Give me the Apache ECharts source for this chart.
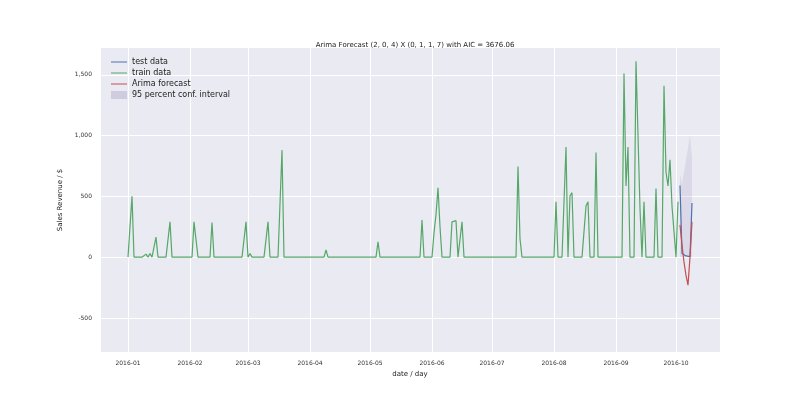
<!DOCTYPE html>
<html><head><meta charset="utf-8">
<script src="https://cdn.jsdelivr.net/npm/echarts@6/dist/echarts.min.js"></script>
<style>html,body{margin:0;padding:0;background:#fff}#c{width:800px;height:402px}</style>
</head><body><div id="c"></div>
<script>
const startDate = '2016-01-01';
// train data: nonzero days [day offset from 2016-01-01, value]; other days are 0
const trainSpikes = [[2,500],[9,25],[11,30],[14,165],[21,290],[33,290],[34,290],[42,285],[59,290],[61,30],[70,290],[77,880],
 [99,60],[125,125],[147,305],[153,200],[154,350],[155,570],[156,250],[162,290],[163,295],[164,300],[167,290],
 [195,745],[196,150],[214,455],[219,905],[221,505],[222,530],[229,420],[230,455],[234,860],
 [248,1510],[249,585],[250,905],[254,1610],[255,1000],[256,400],[258,455],[264,565],[268,1410],[269,700],[270,585],[271,800],[272,420],[273,420],[275,455]];
const trainLastDay = 275;
const testDays = [276,277,278,279,280,281,282];
const testValues = [590,30,25,10,5,5,445];
const forecastValues = [265,100,-40,-150,-230,0,290];
const ciUpper = [600,300,250,200,250,500,700];
const ciLower = [-80,-300,-450,-600,-650,-500,-120];
const yTicks = [-500,0,500,1000,1500];

const dayMs = 86400000;
const t0 = Date.parse(startDate+'T00:00:00Z');
const dt = d => t0 + d*dayMs;
const spikeMap = new Map(trainSpikes);
const train = [];
for (let d=0; d<=trainLastDay; d++) train.push([dt(d), spikeMap.get(d)||0]);
const test = testDays.map((d,i)=>[dt(d),testValues[i]]);
const fc = testDays.map((d,i)=>[dt(d),forecastValues[i]]);
const lo = testDays.map((d,i)=>[dt(d),ciLower[i]]);
const band = testDays.map((d,i)=>[dt(d),ciUpper[i]-ciLower[i]]);

const chart = echarts.init(document.getElementById('c'));
const txt = '#333';
chart.setOption({
  animation:false,
  backgroundColor:'#fff',
  title:{text:'Arima Forecast (2, 0, 4) X (0, 1, 1, 7) with AIC = 3676.06',left:410,top:37,textAlign:'center',textStyle:{fontSize:7,fontWeight:'normal',color:'#222',fontFamily:'DejaVu Sans'}},
  grid:{left:100,right:80,top:48,bottom:50,show:true,backgroundColor:'#EAEAF2',borderWidth:0},
  legend:{orient:'vertical',left:106,top:53,itemWidth:16,itemHeight:8,itemGap:3,textStyle:{fontSize:8,color:'#222',fontFamily:'DejaVu Sans'},
    data:[{name:'test data',icon:'path://M0,4L16,4L16,5L0,5Z'},{name:'train data',icon:'path://M0,4L16,4L16,5L0,5Z'},{name:'Arima forecast',icon:'path://M0,4L16,4L16,5L0,5Z'},{name:'95 percent conf. interval',icon:'rect'}]},
  xAxis:{type:'time',min:Date.parse('2015-12-18T00:00:00Z'),max:Date.parse('2016-10-23T00:00:00Z'),
    minInterval:28*dayMs,maxInterval:31*dayMs,
    axisLine:{show:false},axisTick:{show:false},
    splitLine:{show:true,lineStyle:{color:'#fff',width:1}},
    axisLabel:{fontSize:6,color:txt,fontFamily:'DejaVu Sans',formatter:v=>{const d=new Date(v);return d.getUTCFullYear()+'-'+String(d.getUTCMonth()+1).padStart(2,'0');}},
    name:'date / day',nameLocation:'middle',nameGap:12,nameTextStyle:{fontSize:7,color:'#222',fontFamily:'DejaVu Sans'}},
  yAxis:{type:'value',min:-780,max:1720,
    axisLine:{show:false},
    axisTick:{show:false,customValues:yTicks},
    axisLabel:{fontSize:6,color:txt,fontFamily:'DejaVu Sans',customValues:yTicks},
    splitLine:{show:true,lineStyle:{color:'#fff',width:1}},
    name:'Sales Revenue / $',nameLocation:'middle',nameGap:22,nameTextStyle:{fontSize:7,color:'#222',fontFamily:'DejaVu Sans'}},
  series:[
    {name:'test data',type:'line',data:test,showSymbol:false,lineStyle:{color:'#4C72B0',width:1.2},itemStyle:{color:'#4C72B0'},z:4},
    {name:'train data',type:'line',data:train,showSymbol:false,lineStyle:{color:'#55A868',width:1.2},itemStyle:{color:'#55A868'},z:3},
    {name:'Arima forecast',type:'line',data:fc,showSymbol:false,lineStyle:{color:'#C44E52',width:1.2},itemStyle:{color:'#C44E52'},z:5},
    {name:'ciLower',type:'line',data:lo,stack:'ci',showSymbol:false,lineStyle:{opacity:0},z:2},
    {name:'95 percent conf. interval',type:'line',data:band,stack:'ci',showSymbol:false,lineStyle:{opacity:0},areaStyle:{color:'rgba(129,114,178,0.2)'},itemStyle:{color:'rgba(129,114,178,0.25)'},z:2}
  ]
});
</script></body></html>
